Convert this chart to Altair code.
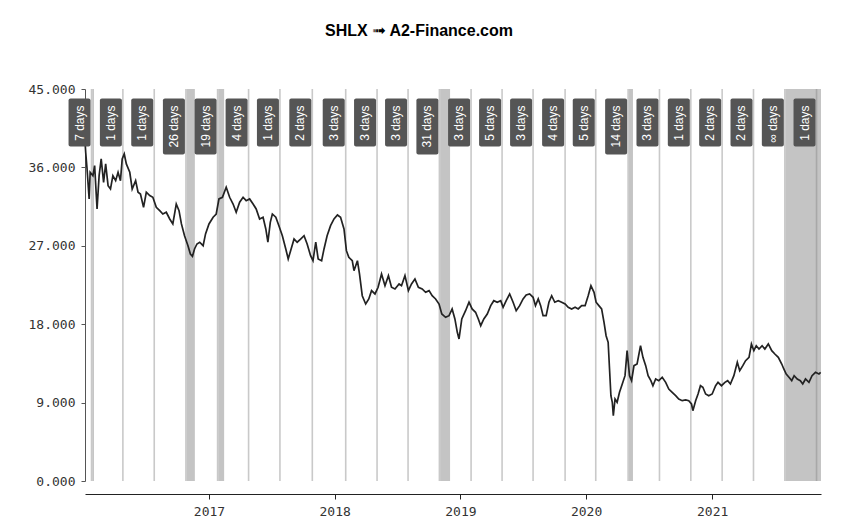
import altair as alt
import pandas as pd

TITLE = "SHLX ➟ A2-Finance.com"
ORIGIN = "2016-01-01"          # price/dividend days are counted from this date
X_DOMAIN = ("2016-01-07", "2021-11-13")
YEARS = [2017, 2018, 2019, 2020, 2021]
Y_TICKS = [0, 9, 18, 27, 36, 45]

PRICE_DAY = [
    6, 8, 12, 18, 21, 29, 34, 41, 47, 53, 60, 66, 73, 80, 87, 95, 102, 109, 114, 120,
    126, 136, 143, 153, 160, 167, 176, 184, 194, 203, 213, 223, 232, 242, 252, 261, 271, 279, 286, 295,
    305, 312, 318, 324, 331, 339, 349, 356, 366, 378, 387, 395, 405, 416, 426, 436, 445, 455, 465, 474,
    484, 494, 503, 513, 523, 531, 537, 544,
    550, 560, 569, 579, 589, 596, 603, 613, 622, 632, 642, 651, 661, 668, 676, 683, 693, 700, 709, 719,
    729, 739, 748, 758, 765, 772, 782, 787, 797, 803, 811, 821, 830, 838, 848, 857, 867, 877, 887, 896,
    906, 918, 925, 935, 945, 954, 964, 974, 985, 995, 1005, 1014, 1024, 1034, 1042, 1053, 1063, 1072, 1080, 1087,
    1092, 1100, 1111, 1121,
    1130, 1140, 1148, 1155, 1164, 1174, 1184, 1193, 1203, 1213, 1220, 1229, 1239, 1249, 1258, 1268, 1278, 1287, 1297, 1307,
    1314, 1322, 1329, 1336, 1345, 1353, 1361, 1370, 1380, 1390, 1400, 1409, 1419, 1429, 1438, 1448, 1458, 1467, 1475, 1484,
    1490, 1498, 1506, 1513, 1519, 1525, 1529, 1533, 1537, 1540, 1545, 1551, 1558, 1566, 1574, 1580, 1587, 1593, 1600, 1609,
    1619, 1626, 1634, 1641,
    1649, 1655, 1663, 1672, 1682, 1692, 1701, 1711, 1721, 1730, 1740, 1750, 1759, 1767, 1771, 1779, 1786, 1793, 1800, 1808,
    1817, 1827, 1837, 1844, 1854, 1864, 1872, 1880, 1890, 1900, 1907, 1916, 1924, 1934, 1941, 1948, 1955, 1963, 1972, 1980,
    1990, 2000, 2009, 2019, 2029, 2035, 2042, 2050, 2058, 2065, 2074, 2083, 2090, 2098, 2108, 2117, 2127, 2137, 2142,
]
PRICE = [
    39.04, 37.74, 35.82, 32.38, 35.44, 35.05, 36.2, 31.23, 35.05, 36.97, 34.29, 36.4, 33.9, 33.52, 35.05, 34.48, 35.44, 34.48, 36.97, 37.54,
    36.4, 35.44, 33.52, 34.48, 33.15, 32.95, 31.42, 33.15, 32.76, 32.57, 31.42, 31.03, 30.65, 30.85, 30.08, 29.51, 31.8, 31.03, 29.51, 28.16,
    27.01, 26.06, 25.8, 26.64, 27.21, 27.41, 27.01, 28.36, 29.51, 30.28, 30.65, 32.38, 32.57, 33.72, 32.57, 31.8, 30.85, 32.0, 32.57, 32.18,
    32.38, 31.8, 31.23, 30.08, 30.28, 28.93, 27.41, 29.7,
    30.65, 30.28, 29.31, 28.16, 26.64, 25.49, 26.44, 27.78, 27.41, 27.78, 28.16, 27.21, 25.87, 25.29, 27.41, 25.49, 25.29, 26.64, 28.16, 29.31,
    30.08, 30.54, 30.28, 28.93, 26.44, 25.68, 25.29, 24.14, 25.29, 23.77, 21.27, 20.32, 20.9, 21.85, 21.47, 22.24, 23.77, 22.42, 23.57, 22.24,
    22.04, 22.62, 22.42, 23.57, 21.85, 22.62, 23.19, 22.24, 22.04, 21.66, 21.85, 21.27, 20.9, 20.32, 19.17, 18.79, 18.98, 19.75, 18.6, 17.07,
    16.3, 18.6, 19.55, 20.52,
    19.75, 19.37, 18.6, 17.83, 18.6, 19.17, 20.13, 20.7, 20.52, 20.7, 19.94, 20.7, 21.47, 20.52, 19.55, 20.13, 20.9, 21.35, 21.47, 21.09,
    20.13, 20.9, 20.13, 18.98, 18.98, 20.52, 21.27, 20.52, 20.7, 20.52, 20.32, 19.94, 19.75, 19.94, 19.75, 20.13, 20.13, 21.27, 22.42, 21.66,
    20.52, 20.13, 19.75, 18.22, 16.68, 15.92, 12.86, 9.79, 9.04, 7.5, 9.41, 9.04, 10.18, 11.14, 12.09, 14.96, 12.09, 11.52, 13.24, 13.43,
    15.53, 14.2, 13.24, 12.09,
    11.52, 10.94, 11.71, 11.52, 11.91, 11.33, 10.56, 10.18, 9.79, 9.41, 9.22, 9.3, 9.22, 8.84, 8.07, 9.22, 9.99, 10.94, 10.76, 9.99,
    9.79, 9.99, 10.94, 11.33, 10.94, 11.33, 11.52, 11.14, 12.09, 13.63, 12.66, 13.24, 13.81, 14.2, 15.73, 14.96, 15.53, 15.15, 15.53, 15.15,
    15.73, 14.96, 14.58, 14.2, 13.43, 12.86, 12.28, 11.91, 11.52, 12.09, 11.71, 11.52, 11.14, 11.71, 11.33, 12.09, 12.48, 12.28, 12.48,
]

# ex-dividend dates (days since ORIGIN) and days needed to recover the price
DIV_DAY = [25, 116, 207, 299, 391, 481, 572, 666, 763, 854, 944, 1035,
           1127, 1217, 1307, 1400, 1489, 1583, 1674, 1765, 1856, 1947, 2038, 2130]
RECOVERY_DAYS = [7, 1, 1, 26, 19, 4, 1, 2, 3, 3, 3, 31,
                 3, 5, 3, 4, 5, 14, 3, 1, 2, 2, None, 1]
RECOVERY_LABEL = ["7 days", "1 days", "1 days", "26 days", "19 days", "4 days", "1 days", "2 days",
                  "3 days", "3 days", "3 days", "31 days", "3 days", "5 days", "3 days", "4 days",
                  "5 days", "14 days", "3 days", "1 days", "2 days", "2 days", "∞ days", "1 days"]

origin = pd.Timestamp(ORIGIN)
x0, x1 = pd.Timestamp(X_DOMAIN[0]), pd.Timestamp(X_DOMAIN[1])

prices = pd.DataFrame({
    "date": origin + pd.to_timedelta(PRICE_DAY, unit="D"),
    "price": PRICE,
})
div_dates = origin + pd.to_timedelta(DIV_DAY, unit="D")
divs = pd.DataFrame({
    "date": div_dates,
    "end": [d + pd.Timedelta(days=r) if r is not None else x1 for d, r in zip(div_dates, RECOVERY_DAYS)],
    "days": [r if r is not None else 99999 for r in RECOVERY_DAYS],
    "label": RECOVERY_LABEL,
})


def dt(ts):
    return alt.DateTime(year=ts.year, month=ts.month, date=ts.day)


x_scale = alt.Scale(domain=[dt(x0), dt(x1)], padding=0)
x_axis = alt.Axis(
    values=[alt.DateTime(year=y, month=1, date=1) for y in YEARS],
    format="%Y", title=None, offset=13, tickSize=5, labelPadding=6,
    domainColor="#222", tickColor="#222", labelFlush=False,
)
X = alt.X("date:T", scale=x_scale, axis=x_axis)

bands = alt.Chart(divs).transform_filter("datum.days > 5").mark_rect(
    color="#c4c4c4", xOffset=0.8
).encode(x=X, x2="end:T")

rules = alt.Chart(divs).mark_rule(color="#888888", opacity=0.45, strokeWidth=1.6).encode(x=X)

line = alt.Chart(prices).mark_line(color="#222222", strokeWidth=1.7).encode(
    x=X,
    y=alt.Y("price:Q", scale=alt.Scale(domain=[0, 45]),
            axis=alt.Axis(values=Y_TICKS, format=".3f", title=None, tickSize=4,
                          labelPadding=6, domainColor="#555", tickColor="#555")),
)

boxes = alt.Chart(divs).transform_calculate(
    top="9.5", bot="9.5 + 8 * length(datum.label)"
).mark_bar(color="#555555", width=22, xOffset=-12, cornerRadius=2).encode(
    x=X,
    y=alt.Y("top:Q", scale=None, axis=None),
    y2="bot:Q",
)

labels = alt.Chart(divs).mark_text(
    angle=270, align="right", baseline="middle", color="white",
    font="Liberation Sans", fontSize=12, xOffset=-12,
).encode(x=X, y=alt.value(16.5), text="label:N")

chart = alt.layer(bands, rules, line, boxes, labels).resolve_scale(y="independent").properties(
    width=736, height=392,
    padding={"left": 20, "top": 15, "right": 5, "bottom": 5},
    title=alt.Title(TITLE, fontSize=16, font="Liberation Sans, DejaVu Sans", fontWeight="bold",
                    color="#000", anchor="middle", dx=-34, offset=44),
).configure_view(stroke=None).configure_axis(
    grid=False, labelFont="DejaVu Sans Mono", labelFontSize=13, labelColor="#333"
)

chart.save("out.html", embed_options={"renderer": "svg", "actions": False})
